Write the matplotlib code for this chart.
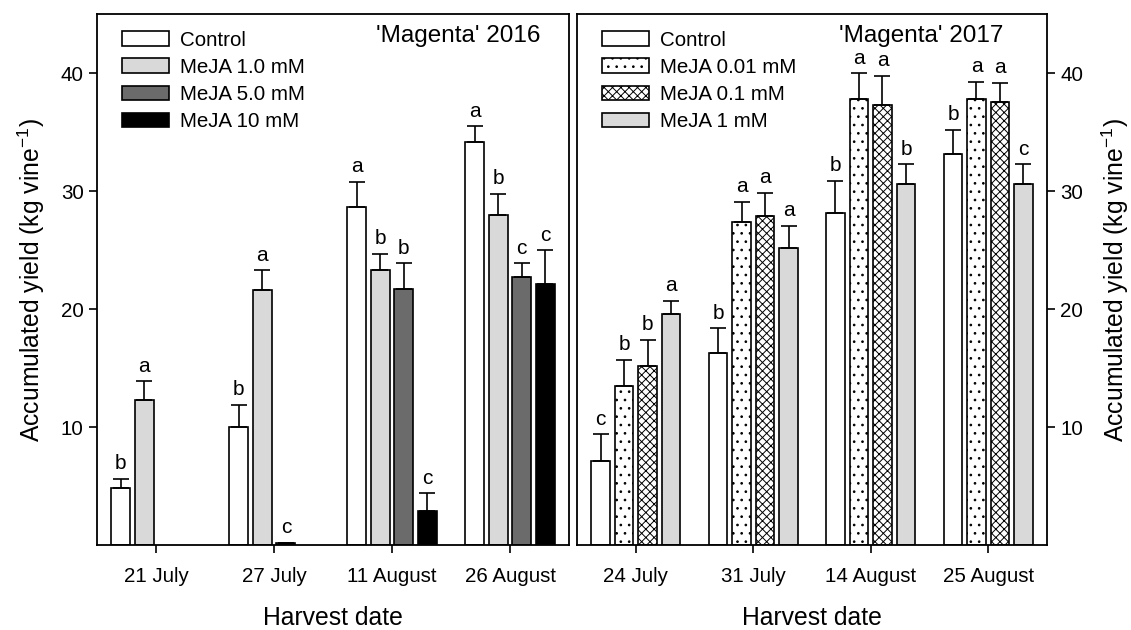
import numpy as np
import matplotlib
matplotlib.use('Agg')
import matplotlib.pyplot as plt

plt.rcParams['font.family'] = ['Liberation Sans', 'DejaVu Sans']
plt.rcParams['mathtext.default'] = 'regular'
plt.rcParams['hatch.linewidth'] = 0.7

# 2016 season
dates_2016 = ['21 July', '27 July', '11 August', '26 August']
labels_2016 = ['Control', 'MeJA 1.0 mM', 'MeJA 5.0 mM', 'MeJA 10 mM']
mean_2016 = [
    [4.8, 10.0, 28.7, 34.2],
    [12.3, 21.6, 23.3, 28.0],
    [np.nan, 0.2, 21.7, 22.7],
    [np.nan, np.nan, 2.9, 22.1],
]
err_2016 = [
    [0.8, 1.9, 2.1, 1.3],
    [1.6, 1.7, 1.4, 1.8],
    [np.nan, 0.0, 2.2, 1.2],
    [np.nan, np.nan, 1.5, 2.9],
]
letters_2016 = [
    ['b', 'b', 'a', 'a'],
    ['a', 'a', 'b', 'b'],
    ['', 'c', 'b', 'c'],
    ['', '', 'c', 'c'],
]

# 2017 season
dates_2017 = ['24 July', '31 July', '14 August', '25 August']
labels_2017 = ['Control', 'MeJA 0.01 mM', 'MeJA 0.1 mM', 'MeJA 1 mM']
mean_2017 = [
    [7.1, 16.3, 28.2, 33.2],
    [13.5, 27.4, 37.8, 37.8],
    [15.2, 27.9, 37.3, 37.6],
    [19.6, 25.2, 30.6, 30.6],
]
err_2017 = [
    [2.3, 2.1, 2.7, 2.0],
    [2.2, 1.7, 2.2, 1.5],
    [2.2, 2.0, 2.5, 1.6],
    [1.1, 1.9, 1.7, 1.7],
]
letters_2017 = [
    ['c', 'b', 'b', 'b'],
    ['b', 'a', 'a', 'a'],
    ['b', 'a', 'a', 'a'],
    ['a', 'a', 'b', 'c'],
]

styles_2016 = [
    {'facecolor': 'white', 'hatch': None},
    {'facecolor': '#d9d9d9', 'hatch': None},
    {'facecolor': '#6b6b6b', 'hatch': None},
    {'facecolor': 'black', 'hatch': None},
]
styles_2017 = [
    {'facecolor': 'white', 'hatch': None},
    {'facecolor': 'white', 'hatch': '..'},
    {'facecolor': 'white', 'hatch': 'xxxx'},
    {'facecolor': '#d9d9d9', 'hatch': None},
]

width = 0.16
offsets = [-0.3, -0.1, 0.1, 0.3]


def draw_panel(ax, dates, labels, means, errs, letters, styles):
    x = np.arange(len(dates))
    for i in range(len(labels)):
        m = np.array(means[i], dtype=float)
        e = np.array(errs[i], dtype=float)
        xs = x + offsets[i]
        ax.bar(xs, m, width, label=labels[i], edgecolor='black', linewidth=1.2,
               facecolor=styles[i]['facecolor'], hatch=styles[i]['hatch'], zorder=2)
        ok = ~np.isnan(m)
        ax.errorbar(xs[ok], m[ok], yerr=[np.zeros(ok.sum()), e[ok]], fmt='none',
                    ecolor='black', elinewidth=1.2, capsize=5.5, capthick=1.2, zorder=3)
        for j in range(len(dates)):
            if letters[i][j] and not np.isnan(m[j]):
                ax.annotate(letters[i][j], (xs[j], m[j] + e[j]), xytext=(0, 4),
                            textcoords='offset points', ha='center', va='bottom',
                            fontsize=15)
    ax.set_xlim(-0.5, len(dates) - 0.5)
    ax.set_ylim(0, 45)
    ax.set_xticks(x)
    ax.set_xticklabels(dates)
    ax.set_yticks([10, 20, 30, 40])
    ax.tick_params(labelsize=14.8, length=6, width=1.2, direction='out')
    ax.tick_params(axis='x', pad=10)
    for s in ax.spines.values():
        s.set_linewidth(1.3)
    ax.set_xlabel('Harvest date', fontsize=17.8, labelpad=14)
    lgd = ax.legend(loc='upper left', bbox_to_anchor=(0.035, 0.985), frameon=False,
                    fontsize=14.8, handlelength=2.3, handleheight=0.72,
                    handletextpad=0.55, labelspacing=0.4, borderaxespad=0)
    return lgd


fig = plt.figure(figsize=(11.31, 6.30), dpi=100)
ax1 = fig.add_axes([0.0858, 0.1349, 0.4173, 0.8421])
ax2 = fig.add_axes([0.5102, 0.1349, 0.4155, 0.8421])

draw_panel(ax1, dates_2016, labels_2016, mean_2016, err_2016, letters_2016, styles_2016)
draw_panel(ax2, dates_2017, labels_2017, mean_2017, err_2017, letters_2017, styles_2017)

ax1.set_ylabel('Accumulated yield (kg vine$^{-1}$)', fontsize=17.8, labelpad=10)
ax2.yaxis.tick_right()
ax2.yaxis.set_label_position('right')
ax2.set_ylabel('Accumulated yield (kg vine$^{-1}$)', fontsize=17.8, labelpad=12)

ax1.text(0.766, 0.959, "'Magenta' 2016", transform=ax1.transAxes, ha='center',
         va='center', fontsize=17.5)
ax2.text(0.733, 0.959, "'Magenta' 2017", transform=ax2.transAxes, ha='center',
         va='center', fontsize=17.5)

fig.savefig('out.png', dpi=100)
